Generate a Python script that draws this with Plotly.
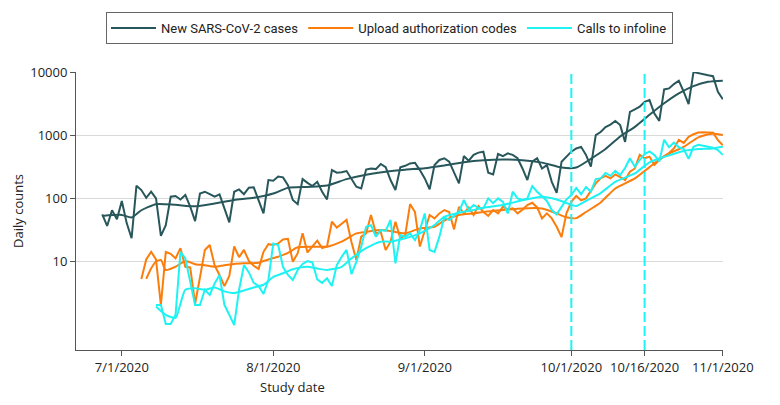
import plotly.graph_objects as go
import pandas as pd

# ---------------- data ----------------
series_names = ["New SARS-CoV-2 cases", "Upload authorization codes", "Calls to infoline"]
last_date = "2020-11-01"

# daily raw counts, ending on 11/1/2020
cases = [55, 36, 64, 46, 90, 40, 23, 157, 134, 101, 126, 99, 25, 37, 105, 108, 95,
         112, 73, 43, 118, 126, 115, 105, 114, 68, 41, 126, 137, 115, 146, 148, 95, 57,
         193, 188, 219, 213, 160, 93, 80, 200, 174, 155,
         181, 126, 95, 278, 253, 256, 268, 205, 151, 142, 284, 295, 288, 347, 309, 193,
         134, 309, 325, 355, 363, 278, 205, 138, 334,
         402, 428, 378, 246, 171, 464, 392, 484, 526, 545, 253, 237, 501, 464, 512, 484,
         428, 295, 193, 378, 428,
         295, 334, 181, 121, 378, 450, 545, 613, 650, 484, 315, 1000, 1120, 1340, 1470,
         1670, 1440, 780, 2340, 2560, 2820, 3380, 3600, 2200, 1680, 5300, 5500,
         6450, 7300, 4880, 3100, 10000, 9550, 9300, 8900, 8600, 4880, 3700]

uploads = [5.2, 10.6, 14, 10.6, 2.0, 14, 13, 11, 16, 8.1, 7.9, 2.1, 5.5, 15, 18, 8.5,
           6, 4, 5.8, 17, 11.5, 15, 10, 8.4, 7.5, 14, 18.5, 18, 19, 22, 22.5, 9.7, 13.3,
           27.5, 13.7, 17, 21, 16, 17, 42, 34, 39, 45, 20, 10.4, 24.4, 27.5, 53.7,
           27.5, 29, 15, 20.3, 42, 23, 25.8, 80, 60, 17, 29, 53.7, 47.5, 57, 64.5, 60,
           31.8, 72.5, 57, 71, 53.7, 74.5, 60, 52, 64.5, 57, 72.5, 66, 68.5, 57, 65, 77.5,
           84, 71, 47.5, 57, 47.5, 35, 24, 57, 87, 108, 92, 99, 130, 171, 205, 225, 205,
           237, 215, 193, 262, 295, 484, 428, 455, 335, 402, 450, 520, 613, 840, 750,
           940, 1030, 1100, 1110, 1110, 1090, 830, 690]

calls = [2.0, 2.0, 1.0, 1.0, 1.4, 14, 11, 4.4, 2.0, 2.0, 3.5, 2.9, 4.4, 6.0, 2.0,
         1.4, 0.96, 3.5, 8.6, 6.6, 4.5, 4.0, 3.0, 5.0, 19, 18, 8.0, 6.0, 5.0, 7.2, 9.0,
         10, 9.5, 5.1, 4.5, 5.3, 4.0, 8.6, 11.7, 15, 6.2, 9.7, 16.9, 35, 37, 24.4, 31,
         30, 44.8, 9.2, 25.8, 24.4, 27.5, 21.5, 31, 57, 15, 14, 24.4, 50, 44.8, 51.8,
         60, 93, 64.5, 77.5, 70, 68.5, 99, 83, 99, 87, 57, 126, 99, 93, 99, 155, 126,
         107, 90, 64.5, 55, 72.5, 95, 111, 145, 115, 150, 126, 200, 205, 250, 225, 270,
         232, 300, 428, 315, 402, 500, 550, 484, 380, 840, 640, 760, 640, 600, 420, 650,
         700, 680, 660, 630, 580, 484]

# smoothed trends
cases_smooth_dates = ["2020-06-27", "2020-07-01", "2020-07-03", "2020-07-05", "2020-07-08",
                      "2020-07-12", "2020-07-16", "2020-07-20", "2020-07-24", "2020-07-28",
                      "2020-08-01", "2020-08-04", "2020-08-08", "2020-08-12", "2020-08-16",
                      "2020-08-20", "2020-08-24", "2020-08-28", "2020-09-01", "2020-09-05",
                      "2020-09-09", "2020-09-13", "2020-09-17", "2020-09-21", "2020-09-25",
                      "2020-09-29", "2020-10-02", "2020-10-05", "2020-10-08", "2020-10-11",
                      "2020-10-14", "2020-10-17", "2020-10-20", "2020-10-23", "2020-10-26",
                      "2020-10-29", "2020-11-01"]
cases_smooth = [52, 54, 49, 64, 80, 78, 74, 82, 93, 101, 118, 145, 150, 158, 200, 235, 262,
                282, 298, 330, 370, 398, 410, 400, 365, 305, 305, 420, 600, 950, 1350, 2100,
                3200, 4600, 6000, 7000, 7300]

uploads_smooth_dates = ["2020-07-06", "2020-07-07", "2020-07-08", "2020-07-09", "2020-07-10",
                        "2020-07-12", "2020-07-14", "2020-07-16", "2020-07-18", "2020-07-20",
                        "2020-07-22", "2020-07-24", "2020-07-26", "2020-07-29", "2020-07-31",
                        "2020-08-02", "2020-08-04", "2020-08-06", "2020-08-09", "2020-08-12",
                        "2020-08-15", "2020-08-18", "2020-08-20", "2020-08-23", "2020-08-26",
                        "2020-08-28", "2020-08-31", "2020-09-03", "2020-09-05", "2020-09-08",
                        "2020-09-11", "2020-09-13", "2020-09-17", "2020-09-21", "2020-09-25",
                        "2020-09-28", "2020-09-30", "2020-10-02", "2020-10-04", "2020-10-07",
                        "2020-10-10", "2020-10-14", "2020-10-17", "2020-10-20", "2020-10-24",
                        "2020-10-27", "2020-10-30", "2020-11-01"]
uploads_smooth = [5.2, 7.6, 9.8, 10.4, 7.2, 8.1, 10, 8.9, 8.6, 8.1, 8.6, 9.0, 9.2, 9.4, 10.6,
                  11.7, 13.5, 16.5, 16.9, 16.9, 20.3, 27.5, 29, 31, 29, 27.5, 33, 35, 44,
                  53.7, 57, 60, 64.5, 68.5, 68.5, 57, 49.4, 48, 60, 85, 142, 205, 310, 464,
                  650, 920, 1060, 1000]

calls_smooth_dates = ["2020-07-08", "2020-07-10", "2020-07-12", "2020-07-13", "2020-07-14",
                      "2020-07-16", "2020-07-18", "2020-07-20", "2020-07-22", "2020-07-24",
                      "2020-07-26", "2020-07-28", "2020-07-30", "2020-08-01", "2020-08-03",
                      "2020-08-05", "2020-08-08", "2020-08-10", "2020-08-12", "2020-08-15",
                      "2020-08-17", "2020-08-20", "2020-08-23", "2020-08-25", "2020-08-28",
                      "2020-08-31", "2020-09-03", "2020-09-05", "2020-09-08", "2020-09-11",
                      "2020-09-13", "2020-09-17", "2020-09-21", "2020-09-25", "2020-09-28",
                      "2020-10-01", "2020-10-02", "2020-10-04", "2020-10-07", "2020-10-10",
                      "2020-10-14", "2020-10-17", "2020-10-20", "2020-10-24", "2020-10-27",
                      "2020-10-30", "2020-11-01"]
calls_smooth = [1.9, 1.4, 1.25, 2.1, 3.5, 3.7, 3.5, 3.8, 3.3, 3.1, 3.4, 3.8, 4.2, 5.6, 6.4,
                7.4, 8.1, 7.6, 7.2, 8.1, 11, 16, 20.3, 20.3, 23, 27.5, 37.3, 50.4, 58.4,
                64.5, 70, 77.5, 92, 105, 95, 78, 74.5, 90, 120, 181, 246, 370, 450, 560, 600,
                613, 650]

# marker dates (vertical dashed lines)
event_dates = ["2020-10-01", "2020-10-16"]

# axis ticks
x_tick_dates = ["2020-07-01", "2020-08-01", "2020-09-01", "2020-10-01", "2020-10-16", "2020-11-01"]
x_tick_text = ["7/1/2020", "8/1/2020", "9/1/2020", "10/1/2020", "10/16/2020", "11/1/2020"]
y_tick_vals = [10, 100, 1000, 10000]
y_tick_text = ["10", "100", "1000", "10000"]

# ---------------- figure ----------------
colors = ["#28575b", "#fb7d0c", "#1ff2f2"]
raw = [cases, uploads, calls]
smooth = [(cases_smooth_dates, cases_smooth), (uploads_smooth_dates, uploads_smooth),
          (calls_smooth_dates, calls_smooth)]

fig = go.Figure()
for name, col, vals, (sd, sv) in zip(series_names, colors, raw, smooth):
    dates = pd.date_range(end=last_date, periods=len(vals), freq="D")
    fig.add_trace(go.Scatter(x=dates, y=vals, mode="lines", name=name,
                             line=dict(color=col, width=2), legendgroup=name))
    fig.add_trace(go.Scatter(x=pd.to_datetime(sd), y=sv, mode="lines", name=name,
                             line=dict(color=col, width=2, shape="spline", smoothing=0.6),
                             legendgroup=name, showlegend=False))

for d in event_dates:
    fig.add_shape(type="line", xref="x", yref="paper", x0=d, x1=d, y0=0, y1=1,
                  line=dict(color="#1ff2f2", width=2, dash="10px,4px"), layer="above")

axis_font = dict(family="Open Sans, Liberation Sans, sans-serif", size=13, color="#222222")

# page has an 8 px body margin, so the figure is 772 x 397 inside the 780 x 405 window
fig.update_layout(
    width=772, height=397,
    margin=dict(l=68, r=57, t=64, b=55, autoexpand=False),
    paper_bgcolor="white", plot_bgcolor="white",
    showlegend=True,
    legend=dict(orientation="h", x=30 / 647, y=1 + 60 / 278,
                xanchor="left", yanchor="top",
                bordercolor="#666666", borderwidth=1, bgcolor="white",
                font=dict(family="Roboto, sans-serif", size=13, color="#222222"),
                itemwidth=45, tracegroupgap=0),
    font=axis_font,
)
fig.update_xaxes(
    type="date", range=["2020-06-21 15:00", "2020-11-01 01:00"], automargin=False,
    tickmode="array", tickvals=x_tick_dates, ticktext=x_tick_text,
    showgrid=False, zeroline=False,
    showline=True, linecolor="#555555", linewidth=1,
    ticks="outside", ticklen=5, tickcolor="#555555", tickfont=axis_font,
)
fig.update_yaxes(
    type="log", range=[-0.413, 4.0015], automargin=False,
    tickmode="array", tickvals=y_tick_vals, ticktext=y_tick_text,
    showgrid=True, gridcolor="#d9d9d9", gridwidth=1, zeroline=False,
    showline=True, linecolor="#555555", linewidth=1,
    ticks="outside", ticklen=5, tickcolor="#555555", tickfont=axis_font,
    title=dict(text="Daily counts", font=axis_font, standoff=3),
)
fig.add_annotation(text="Study date", xref="paper", yref="paper",
                   x=(292 - 76) / 647, y=-(387 - 350) / 278, xanchor="center",
                   yanchor="middle", showarrow=False, font=axis_font)

fig.write_html("out.html")
